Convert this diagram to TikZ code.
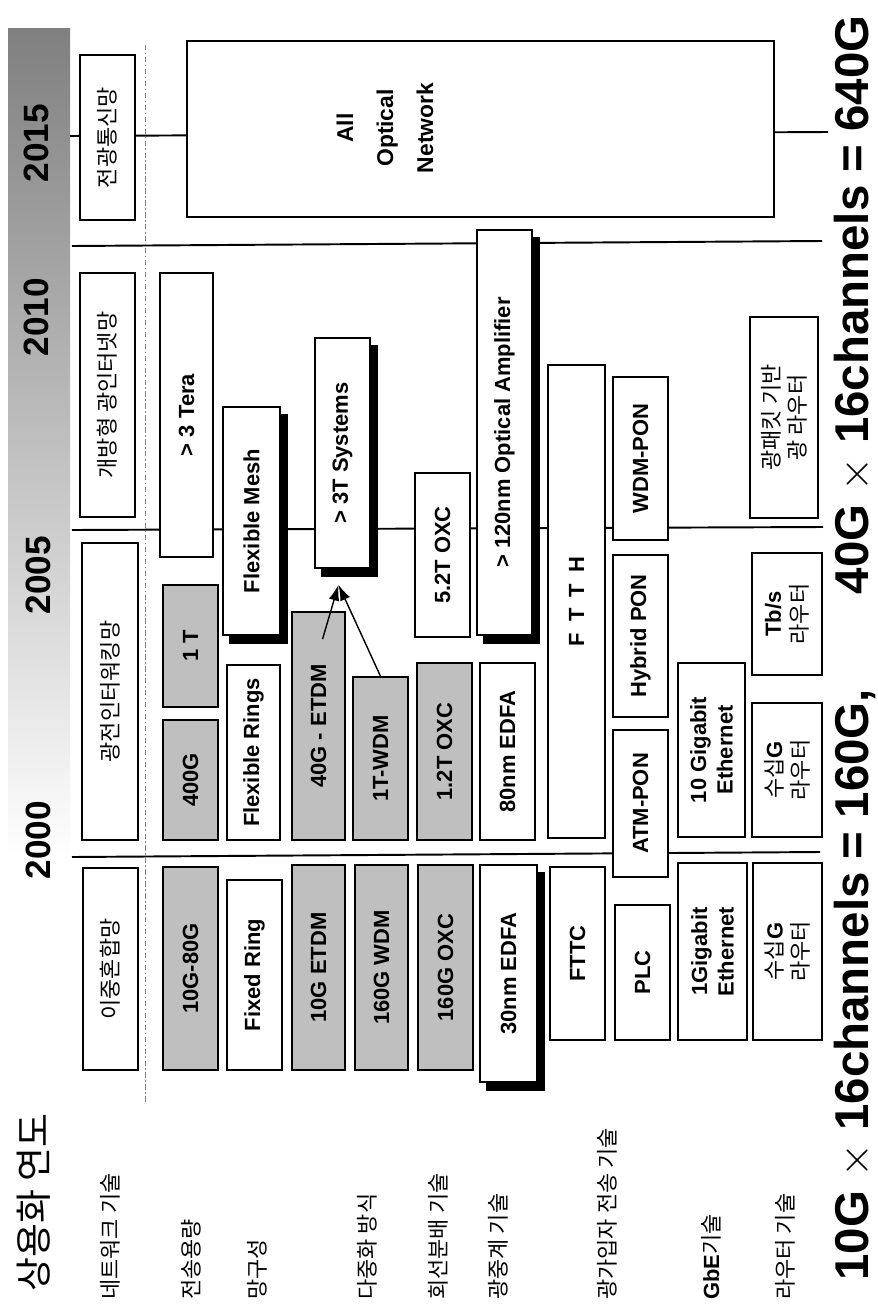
\documentclass[tikz,border=0pt]{standalone}
\usepackage{fontspec}
\setmainfont{Liberation Sans}
\newfontfamily\kr{Noto Sans CJK KR}
\usetikzlibrary{arrows.meta,backgrounds}

\newcommand{\krtxt}[1]{{\kr\mdseries #1}}

\tikzset{
  cell/.style={draw, line width=0.9pt, fill=white, rotate=90, inner sep=0pt, align=center,
    font=\fontsize{12.5}{15}\selectfont\bfseries},
  greycell/.style={cell, fill=black!25},
  rowlbl/.style={rotate=90, anchor=west, inner sep=0pt, font=\kr\fontsize{12.5}{14}\selectfont},
  yearlbl/.style={rotate=90, inner sep=0pt, font=\fontsize{20}{22}\selectfont\bfseries},
  rule/.style={line width=1.1pt},
}

\begin{document}
\begin{tikzpicture}[x=0.02cm,y=-0.02cm]
\useasboundingbox (0,0) rectangle (877,1312);

% years and title
\node[yearlbl] (y2015) at (36,143) {2015};
\node[yearlbl] (y2010) at (36,317) {2010};
\node[yearlbl] (y2005) at (38,575) {2005};
\node[yearlbl] (y2000) at (38,840) {2000};
\node[rowlbl, font=\kr\fontsize{21}{24}\selectfont] (title) at (34,1292) {상용화 연도};

% row labels
\node[rowlbl] (lnet) at (110,1300) {네트워크 기술};
\node[rowlbl] (lcap) at (191,1300) {전송용량};
\node[rowlbl] (ltop) at (257,1300) {망구성};
\node[rowlbl] (lmux) at (367,1300) {다중화 방식};
\node[rowlbl] (lxc) at (438,1300) {회선분배 기술};
\node[rowlbl] (lamp) at (498,1300) {광중계 기술};
\node[rowlbl] (lacc) at (607,1300) {광가입자 전송 기술};
\node[rowlbl] (lgbe) at (711,1300) {{\rmfamily\bfseries GbE}기술};
\node[rowlbl] (lrt) at (785,1300) {라우터 기술};

% network
\node[cell, minimum width=4.04cm, minimum height=1.10cm] (ihon) at (110.5,969) {\krtxt{이중혼합망}};
\node[cell, minimum width=5.94cm, minimum height=1.12cm] (kwangin) at (110,691.5) {\krtxt{광전인터워킹망}};
\node[cell, minimum width=4.88cm, minimum height=1.10cm] (gaebang) at (107.5,395) {\krtxt{개방형 광인터넷망}};
\node[cell, minimum width=3.30cm, minimum height=1.10cm] (jeongwang) at (107.5,137.5) {\krtxt{전광통신망}};
\node[cell, minimum width=3.52cm, minimum height=11.74cm] (aon) at (480.5,129) {};
\node[rotate=90, align=center, inner sep=0pt, font=\fontsize{13}{22.8}\selectfont\bfseries] (aonlbl) at (385,128) {All\\Optical\\Network};

% capacity
\node[greycell, minimum width=4.06cm, minimum height=1.10cm] (g10g80) at (190.5,968.5) {10G-80G};
\node[greycell, minimum width=2.40cm, minimum height=1.10cm] (g400) at (190.5,780) {400G};
\node[greycell, minimum width=2.44cm, minimum height=1.10cm] (g1t) at (190.5,646) {1 T};
\node[cell, minimum width=5.68cm, minimum height=1.06cm] (tera) at (186.5,415) {> 3 Tera};

% topology
\node[cell, minimum width=3.80cm, minimum height=1.10cm] (fixring) at (254.5,975) {Fixed Ring};
\node[cell, minimum width=3.50cm, minimum height=1.06cm] (flexrings) at (253.5,752.5) {Flexible Rings};
\node[cell, minimum width=4.56cm, minimum height=1.14cm] (flexmesh) at (251.5,521) {Flexible Mesh};

% multiplexing
\node[greycell, minimum width=4.10cm, minimum height=1.06cm] (etdm10) at (318.5,967.5) {10G ETDM};
\node[greycell, minimum width=4.56cm, minimum height=1.06cm] (etdm40) at (318.5,726) {40G - ETDM};
\node[greycell, minimum width=4.10cm, minimum height=1.06cm] (wdm160) at (381.5,967.5) {160G WDM};
\node[greycell, minimum width=3.26cm, minimum height=1.10cm] (wdm1t) at (380.5,758.5) {1T-WDM};
\node[cell, minimum width=4.60cm, minimum height=1.10cm] (tsys) at (342.5,453) {> 3T Systems};

% cross connect
\node[greycell, minimum width=4.10cm, minimum height=1.10cm] (oxc160) at (445.5,967.5) {160G OXC};
\node[greycell, minimum width=3.54cm, minimum height=1.10cm] (oxc12) at (444.5,751.5) {1.2T OXC};
\node[cell, minimum width=3.28cm, minimum height=1.10cm] (oxc52) at (442.5,555) {5.2T OXC};

% amplifier
\node[cell, minimum width=4.34cm, minimum height=1.14cm] (edfa30) at (508.5,973.5) {30nm EDFA};
\node[cell, minimum width=3.54cm, minimum height=1.10cm] (edfa80) at (507.5,751.5) {80nm EDFA};
\node[cell, minimum width=8.10cm, minimum height=1.10cm] (oamp) at (504.5,432.5) {> 120nm Optical Amplifier};

% access
\node[cell, minimum width=3.46cm, minimum height=1.10cm] (fttc) at (577.5,953.5) {FTTC};
\node[cell, minimum width=9.46cm, minimum height=1.14cm] (ftth) at (576.5,601.5) {F\enspace T\enspace T\enspace H};
\node[cell, minimum width=2.70cm, minimum height=1.10cm] (plc) at (642.5,972.5) {PLC};
\node[cell, minimum width=2.94cm, minimum height=1.10cm] (atmpon) at (640.5,803.5) {ATM-PON};
\node[cell, minimum width=3.24cm, minimum height=1.10cm] (hybpon) at (640.5,636) {Hybrid PON};
\node[cell, minimum width=3.26cm, minimum height=1.10cm] (wdmpon) at (640.5,458.5) {WDM-PON};

% gbe
\node[cell, minimum width=3.54cm, minimum height=1.38cm] (gbe1) at (712.5,951.5) {1Gigabit\\Ethernet};
\node[cell, minimum width=3.48cm, minimum height=1.34cm] (gbe10) at (711.5,750) {10 Gigabit\\Ethernet};

% router
\node[cell, minimum width=3.54cm, minimum height=1.38cm] (rt2000) at (787.5,951.5) {\krtxt{수십}G\\\krtxt{라우터}};
\node[cell, minimum width=2.68cm, minimum height=1.40cm] (rt2005) at (787,770) {\krtxt{수십}G\\\krtxt{라우터}};
\node[cell, minimum width=2.44cm, minimum height=1.40cm] (rttbs) at (787,614) {Tb/s\\\krtxt{라우터}};
\node[cell, minimum width=4.02cm, minimum height=1.36cm] (rtpkt) at (784,417.5) {\krtxt{광패킷 기반}\\\krtxt{광 라우터}};

% formula
\node[rotate=90, inner sep=0pt, font=\fontsize{27}{29}\selectfont\bfseries] (formula) at (855,648)
  {10G $\times$ 16channels = 160G,\hspace{2em}40G $\times$ 16channels = 640G};

% arrows
\coordinate (tip) at ([shift={(-4,16)}]tsys.west);
\draw[line width=0.8pt, -{Latex[length=9pt,width=6pt]}] ([shift={(4,28)}]etdm40.east) -- (tip);
\draw[line width=0.8pt, -{Latex[length=9pt,width=6pt]}] (wdm1t.east) -- (tip);

\begin{scope}[on background layer]
  \shade[top color=black!50, bottom color=white] (8,28) rectangle (70,860);
  \draw[rule] (70,136) -- (828,132);
  \draw[rule] (72,246) -- (822,241);
  \draw[rule] (72,530) -- (823,527);
  \draw[rule] (72,857) -- (820,852);
  \draw[gray, line width=0.5pt, dash pattern=on 3pt off 1.5pt on 0.8pt off 1.5pt] (145,45) -- (145,1103);
  \foreach \n in {flexmesh,tsys,oamp,edfa30}
    \fill ([shift={(7,8)}]\n.north east) rectangle ([shift={(7,8)}]\n.south west);
\end{scope}
\end{tikzpicture}
\end{document}
